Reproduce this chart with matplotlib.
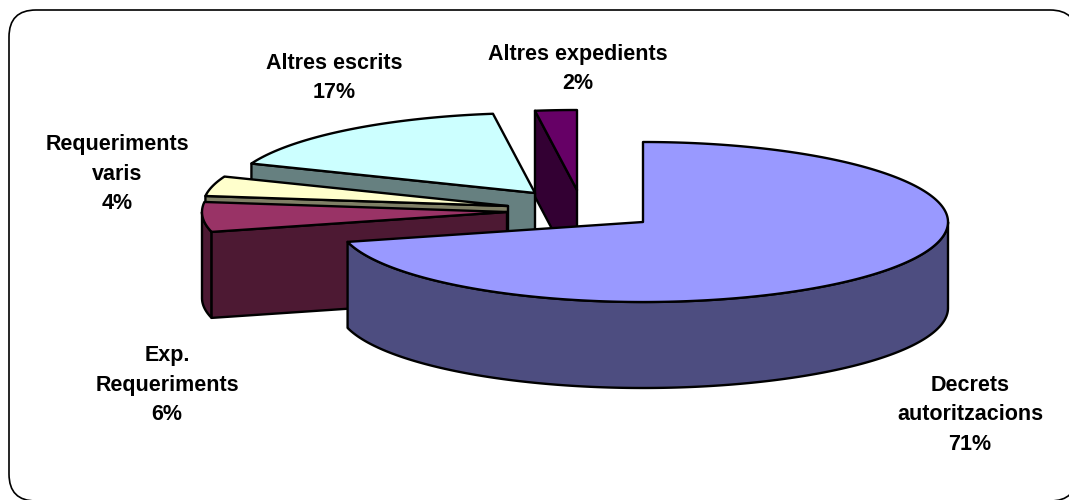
import numpy as np
import matplotlib
matplotlib.use("Agg")
import matplotlib.pyplot as plt
from matplotlib.patches import FancyBboxPatch, Polygon

plt.rcParams['font.family'] = ['Liberation Sans', 'DejaVu Sans']

# slices, clockwise from 12 o'clock
names = ["Decrets\nautoritzacions", "Exp.\nRequeriments", "Requeriments\nvaris",
         "Altres escrits", "Altres expedients"]
values = [71.0, 6.0, 4.0, 16.8, 2.2]
percents = ["71%", "6%", "4%", "17%", "2%"]

top_colors = ["#9999FF", "#993366", "#FFFFCC", "#CCFFFF", "#660066"]
wall_colors = ["#4D4D80", "#4D1933", "#808066", "#668080", "#330033"]
centers = [(643, 222), (507, 212), (508, 206), (535, 193), (577, 190)]
label_pos = [(970, 415), (167, 385), (117, 174), (334, 78), (578, 69)]

RX, RY, DEPTH = 305, 80, 86


def rim(center, a0, a1, drop=0):
    t = np.radians(np.linspace(a0, a1, max(int(abs(a1 - a0)) * 2, 2)))
    x = center[0] + RX * np.sin(t)
    y = center[1] - RY * np.cos(t) + drop
    return np.column_stack([x, y])


def draw_slice(ax, center, a0, a1, top, wall):
    line = dict(edgecolor="black", linewidth=1.7, joinstyle="round")
    # outer wall, front half only
    lo, hi = max(a0, 90), min(a1, 270)
    if hi > lo:
        pts = np.vstack([rim(center, lo, hi), rim(center, hi, lo, DEPTH)])
        ax.add_patch(Polygon(pts, facecolor=wall, **line))
    # cut faces that look towards the viewer
    for ang, seen in ((a0, np.sin(np.radians(a0)) < -1e-6),
                      (a1, np.sin(np.radians(a1)) > 1e-6)):
        if seen:
            p = rim(center, ang, ang + 1e-6)[0]
            pts = [p, center, (center[0], center[1] + DEPTH), (p[0], p[1] + DEPTH)]
            ax.add_patch(Polygon(pts, facecolor=wall, **line))
    pts = np.vstack([[center], rim(center, a0, a1)])
    ax.add_patch(Polygon(pts, facecolor=top, **line))


def main():
    fig = plt.figure(figsize=(10.69, 5), dpi=100)
    ax = fig.add_axes([0, 0, 1, 1])
    ax.set_xlim(0, 1069)
    ax.set_ylim(500, 0)
    ax.axis("off")

    # frame runs past the right and bottom edges of the image
    ax.add_patch(FancyBboxPatch((9, 10), 1068, 491, boxstyle="round,pad=0,rounding_size=27",
                                facecolor="white", edgecolor="black", linewidth=1.2))

    edges = np.cumsum([0] + values) / sum(values) * 360
    # back slices first, the big one goes on top
    for i in [4, 3, 2, 1, 0]:
        draw_slice(ax, centers[i], edges[i], edges[i + 1], top_colors[i], wall_colors[i])

    for i, name in enumerate(names):
        ax.text(label_pos[i][0], label_pos[i][1], name + "\n" + percents[i], ha="center", va="center",
                fontsize=15.5, fontweight="bold", linespacing=1.54, color="black")

    fig.savefig("out.png", dpi=100)


if __name__ == "__main__":
    main()
